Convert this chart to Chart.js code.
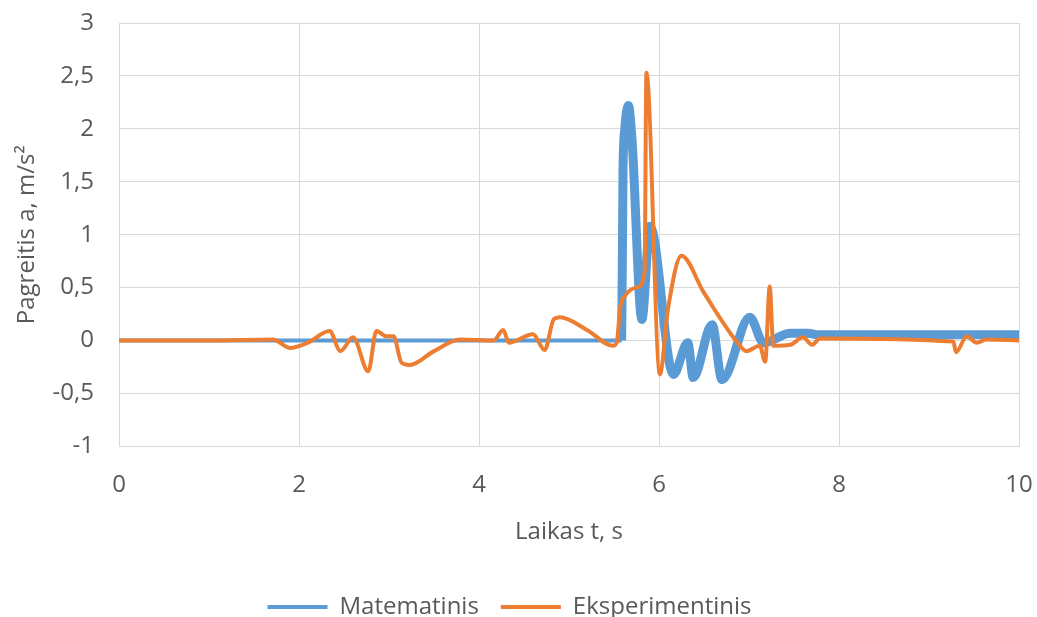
<!DOCTYPE html>
<html>
<head>
<meta charset="utf-8">
<script src="https://cdn.jsdelivr.net/npm/chart.js@4.4.1/dist/chart.umd.min.js"></script>
<style>
  body { margin: 0; background: #ffffff; }
  #wrap { width: 1037px; height: 617px; }
</style>
</head>
<body>
<div id="wrap"><canvas id="chartPagreitis" width="1037" height="617"></canvas></div>
<script>
/* data */
const matLabel = "Matematinis";
const matLaikas = [0, 5.585, 5.6, 5.62, 5.66, 5.7, 5.81, 5.9, 6.16, 6.32, 6.38, 6.59, 6.7, 7.01, 7.16, 7.46, 7.66, 7.75, 10];
const matPagreitis = [0, 0, 1.6, 2.0, 2.22, 1.9, 0.2, 1.08, -0.32, -0.02, -0.35, 0.15, -0.37, 0.22, -0.02, 0.07, 0.07, 0.055, 0.055];

const eksLabel = "Eksperimentinis";
const eksLaikas = [0, 1.0, 1.71, 1.9, 2.1, 2.34, 2.46, 2.6, 2.77, 2.86, 2.97, 3.05, 3.14, 3.23, 3.5, 3.79, 4.16, 4.27, 4.33, 4.6, 4.73, 4.83, 4.9, 5.2, 5.49, 5.53, 5.57, 5.62, 5.75, 5.84, 5.86, 6.01, 6.1, 6.25, 6.5, 6.9, 6.97, 7.12, 7.18, 7.23, 7.27, 7.46, 7.6, 7.7, 7.79, 9.27, 9.3, 9.42, 9.53, 9.64, 10];
const eksPagreitis = [0, 0, 0.01, -0.07, -0.02, 0.09, -0.1, 0.03, -0.29, 0.09, 0.04, 0.04, -0.21, -0.23, -0.1, 0.01, 0, 0.1, -0.02, 0.06, -0.09, 0.2, 0.22, 0.1, -0.05, -0.02, 0.32, 0.42, 0.5, 0.64, 2.53, -0.32, 0.3, 0.8, 0.45, -0.05, -0.1, -0.05, -0.2, 0.51, -0.05, -0.04, 0.03, -0.04, 0.02, -0.01, -0.11, 0.04, -0.02, 0.01, 0];

const xMin = 0, xMax = 10, xStep = 2;
const yMin = -1, yMax = 3, yStep = 0.5;

const matTaskai = matLaikas.map((t, i) => ({ x: t, y: matPagreitis[i] }));
const eksTaskai = eksLaikas.map((t, i) => ({ x: t, y: eksPagreitis[i] }));

const sriftas = "'Open Sans', sans-serif";
const pilka = "#595959";
const tinklas = "#d9d9d9";

const kablelis = (v) => String(v).replace(".", ",");

new Chart(document.getElementById("chartPagreitis"), {
  type: "line",
  data: {
    datasets: [
      {
        label: matLabel,
        data: matTaskai,
        borderColor: "#5b9bd5",
        backgroundColor: "#5b9bd5",
        borderWidth: 4,
        pointRadius: 0,
        cubicInterpolationMode: "monotone",
        order: 2,
        segment: {
          // the simulated line oscillates fast, so it shows as a thick band
          borderWidth: (ctx) => (ctx.p0.parsed.x >= 5.585 ? 9 : 4),
        },
      },
      {
        label: eksLabel,
        data: eksTaskai,
        borderColor: "#ed7d31",
        backgroundColor: "#ed7d31",
        borderWidth: 4,
        pointRadius: 0,
        cubicInterpolationMode: "monotone",
        order: 1,
      },
    ],
  },
  options: {
    responsive: false,
    animation: false,
    events: [],
    layout: { padding: { top: 23, right: 18, left: 0, bottom: -12 } },
    scales: {
      x: {
        type: "linear",
        min: xMin,
        max: xMax,
        // invisible tick marks keep the labels away from the plot
        grid: { color: tinklas, tickLength: 24, tickColor: "rgba(0,0,0,0)" },
        border: { color: tinklas },
        ticks: {
          stepSize: xStep,
          padding: 0,
          color: pilka,
          font: { family: sriftas, size: 24 },
          callback: kablelis,
        },
        title: {
          display: true,
          text: "Laikas t, s",
          color: pilka,
          font: { family: sriftas, size: 24 },
          padding: { top: 19, bottom: 26 },
        },
      },
      y: {
        min: yMin,
        max: yMax,
        grid: { color: tinklas, tickLength: 25, tickColor: "rgba(0,0,0,0)" },
        border: { color: tinklas },
        afterFit: (scale) => {
          scale.width = 119;
        },
        ticks: {
          stepSize: yStep,
          padding: 0,
          color: pilka,
          font: { family: sriftas, size: 24 },
          callback: kablelis,
        },
        title: {
          display: true,
          text: "Pagreitis a, m/s²",
          color: pilka,
          font: { family: sriftas, size: 24 },
          padding: { top: 13, bottom: 0 },
        },
      },
    },
    plugins: {
      tooltip: { enabled: false },
      legend: {
        position: "bottom",
        labels: {
          usePointStyle: true,
          pointStyle: "line",
          pointStyleWidth: 60,
          padding: 22,
          color: pilka,
          font: { family: sriftas, size: 24 },
          sort: (a, b) => a.datasetIndex - b.datasetIndex,
        },
      },
    },
  },
});
</script>
</body>
</html>
